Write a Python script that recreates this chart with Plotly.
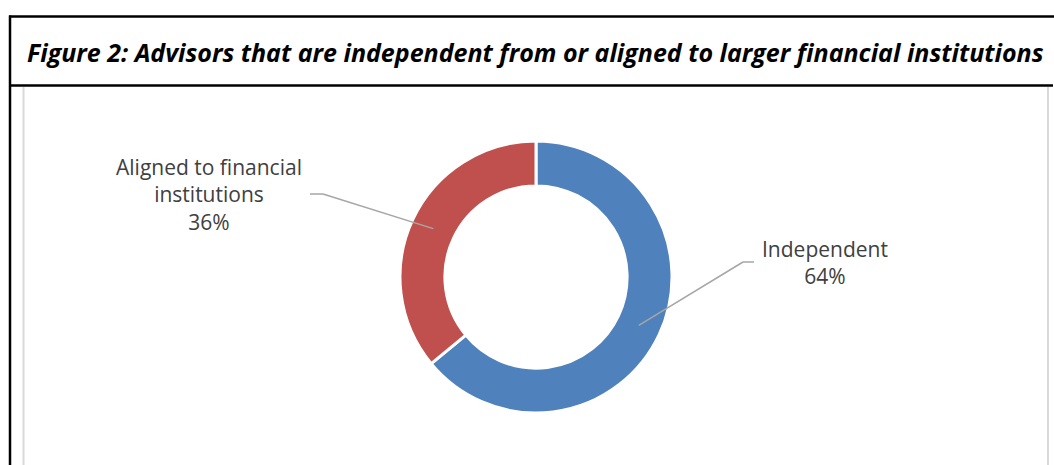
import math
import plotly.graph_objects as go

W, H = 1054, 465

labels = ["Independent", "Aligned to financial institutions"]
values = [64, 36]
colors = ["#4F81BD", "#C0504D"]
title_text = "Figure 2: Advisors that are independent from or aligned to larger financial institutions"

# donut geometry (pixels)
cx, cy, R = 536, 277, 136
hole = 0.67


def px(x):
    return x / W


def py(y):
    return 1 - y / H


fig = go.Figure()
fig.add_trace(go.Pie(
    labels=labels,
    values=values,
    hole=hole,
    sort=False,
    direction="clockwise",
    rotation=0,
    textinfo="none",
    hoverinfo="label+percent",
    marker=dict(colors=colors, line=dict(color="white", width=3)),
    domain=dict(x=[px(cx - R), px(cx + R)], y=[py(cy + R), py(cy - R)]),
    showlegend=False,
))

# leader lines computed from slice mid-angles
total = sum(values)
mid_r = R * (1 + hole) / 2
label_pos = {
    0: dict(text_xy=(825, 262), elbow=[(754, 262), (743, 262)]),
    1: dict(text_xy=(209, 194), elbow=[(310, 194), (323, 194)]),
}
shapes = []
annotations = []
cum = 0
for i, v in enumerate(values):
    mid = (cum + v / 2) / total * 2 * math.pi
    cum += v
    ex = cx + mid_r * math.sin(mid)
    ey = cy - mid_r * math.cos(mid)
    (ax, ay), (bx, by) = label_pos[i]["elbow"]
    line_style = dict(color="#A6A6A6", width=1.5)
    shapes.append(dict(type="line", xref="paper", yref="paper",
                       x0=px(ax), y0=py(ay), x1=px(bx), y1=py(by), line=line_style))
    shapes.append(dict(type="line", xref="paper", yref="paper",
                       x0=px(bx), y0=py(by), x1=px(ex), y1=py(ey), line=line_style))
    tx, ty = label_pos[i]["text_xy"]
    if i == 1:
        txt = "Aligned to financial<br>institutions<br>%d%%" % round(v / total * 100)
    else:
        txt = "%s<br>%d%%" % (labels[i], round(v / total * 100))
    annotations.append(dict(x=px(tx), y=py(ty), xref="paper", yref="paper",
                            text=txt, showarrow=False, align="center",
                            xanchor="center", yanchor="middle",
                            font=dict(family="Open Sans", size=21, color="#404040")))

# title
annotations.append(dict(x=px(25), y=py(52), xref="paper", yref="paper",
                        text="<b><i>" + title_text + "</i></b>", showarrow=False,
                        xanchor="left", yanchor="middle",
                        font=dict(family="Open Sans", size=25, color="black")))

# frame lines
black = dict(color="black", width=2.5)
gray = dict(color="#D9D9D9", width=2)
shapes += [
    dict(type="line", xref="paper", yref="paper", x0=px(9), y0=py(16.5), x1=px(1060), y1=py(16.5), line=black),
    dict(type="line", xref="paper", yref="paper", x0=px(10), y0=py(15.5), x1=px(10), y1=py(470), line=black),
    dict(type="line", xref="paper", yref="paper", x0=px(9), y0=py(85.5), x1=px(1053), y1=py(85.5), line=black),
    dict(type="line", xref="paper", yref="paper", x0=px(23.5), y0=py(87), x1=px(23.5), y1=py(470), line=gray),
    dict(type="line", xref="paper", yref="paper", x0=px(1048), y0=py(87), x1=px(1048), y1=py(470), line=gray),
]

fig.update_layout(
    width=W, height=H,
    margin=dict(l=0, r=0, t=0, b=0),
    paper_bgcolor="white", plot_bgcolor="white",
    shapes=shapes, annotations=annotations,
    showlegend=False,
)

fig.write_html("out.html", config={"displayModeBar": False})
